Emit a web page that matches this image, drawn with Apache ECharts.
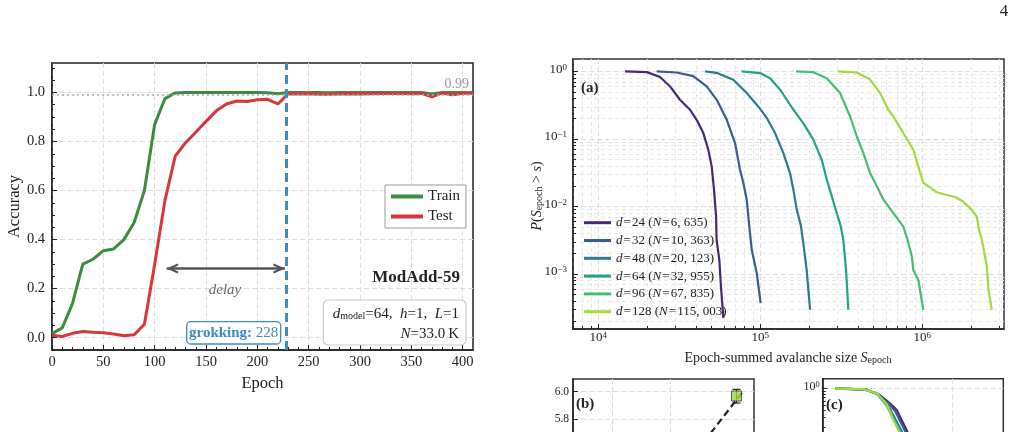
<!DOCTYPE html>
<html>
<head>
<meta charset="utf-8">
<title>grokking avalanches</title>
<script src="https://cdn.jsdelivr.net/npm/echarts@6.0.0/dist/echarts.min.js"></script>
<style>
  html, body { margin: 0; padding: 0; background: #fff; }
  #main { width: 1017px; height: 432px; }
</style>
</head>
<body>
<div id="main"></div>
<script>
var serif = 'Liberation Serif';
var ink = '#222';

// ---- left panel: ModAdd-59 accuracy vs epoch
var epochs = [0, 10, 20, 30, 40, 50, 60, 70, 80, 90, 100, 110, 120, 130, 140, 150, 160, 170, 180, 190, 200,
  210, 220, 230, 240, 250, 260, 270, 280, 290, 300, 310, 320, 330, 340, 350, 360, 370, 380, 390, 400, 410];
var trainAcc = [0.017, 0.04, 0.14, 0.30, 0.32, 0.355, 0.362, 0.40, 0.47, 0.60, 0.87, 0.975, 0.998, 1.0, 1.0, 1.0, 1.0, 1.0, 1.0, 1.0, 1.0,
  0.999, 0.995, 1.0, 1.0, 1.0, 1.0, 0.999, 1.0, 1.0, 1.0, 1.0, 1.0, 1.0, 1.0, 1.0, 1.0, 0.994, 1.0, 1.0, 1.0, 1.0];
var testAcc = [0.01, 0.005, 0.018, 0.025, 0.022, 0.02, 0.015, 0.008, 0.012, 0.055, 0.30, 0.56, 0.74, 0.795, 0.838, 0.882, 0.925, 0.953, 0.965, 0.963, 0.97,
  0.972, 0.953, 0.994, 0.994, 0.995, 0.993, 0.993, 0.994, 0.995, 0.994, 0.995, 0.996, 0.996, 0.997, 0.995, 0.996, 0.982, 0.998, 0.99, 0.997, 0.997];
var epochTicks = [0, 50, 100, 150, 200, 250, 300, 350, 400];
var accTicks = [0, 0.2, 0.4, 0.6, 0.8, 1.0];
var grokEpoch = 228;
var plateau = 0.99;
var delayFrom = 111.6, delayTo = 226.8, delayAcc = 0.282;

// ---- (a) CCDF of epoch-summed avalanche size (log10 S, log10 P)
var dims = [24, 32, 48, 64, 96, 128];
var sizeN = ['6, 635', '10, 363', '20, 123', '32, 955', '67, 835', '115, 003'];
var d24LogS = [4.165, 4.30, 4.381, 4.443, 4.504, 4.566, 4.607, 4.648, 4.679, 4.70, 4.714, 4.727, 4.73, 4.747, 4.757, 4.772];
var d24LogP = [0, -0.01, -0.083, -0.222, -0.419, -0.567, -0.716, -0.913, -1.16, -1.41, -1.75, -2.15, -2.49, -2.79, -3.19, -3.65];
var d32LogS = [4.36, 4.484, 4.586, 4.669, 4.731, 4.793, 4.844, 4.875, 4.895, 4.916, 4.932, 4.947, 4.978, 5.002];
var d32LogP = [0, -0.015, -0.07, -0.22, -0.42, -0.716, -1.06, -1.46, -1.65, -1.90, -2.30, -2.64, -2.99, -3.43];
var d48LogS = [4.659, 4.73, 4.833, 4.916, 4.998, 5.04, 5.091, 5.142, 5.183, 5.204, 5.225, 5.25, 5.265, 5.286, 5.307];
var d48LogP = [0, -0.02, -0.123, -0.32, -0.55, -0.69, -0.913, -1.21, -1.505, -1.75, -2.05, -2.28, -2.54, -2.94, -3.53];
var d64LogS = [4.885, 4.998, 5.06, 5.122, 5.204, 5.265, 5.327, 5.379, 5.41, 5.441, 5.472, 5.495, 5.512, 5.529, 5.543];
var d64LogP = [0, -0.024, -0.1, -0.27, -0.567, -0.765, -1.01, -1.31, -1.60, -1.85, -2.10, -2.28, -2.49, -2.94, -3.53];
var d96LogS = [5.22, 5.327, 5.41, 5.492, 5.554, 5.595, 5.636, 5.677, 5.719, 5.76, 5.821, 5.883, 5.914, 5.935, 5.944, 5.975, 6.006];
var d96LogP = [0, -0.01, -0.10, -0.32, -0.667, -0.96, -1.21, -1.505, -1.70, -1.90, -2.10, -2.30, -2.54, -2.74, -2.94, -3.09, -3.53];
var d128LogS = [5.478, 5.595, 5.677, 5.739, 5.79, 5.821, 5.883, 5.944, 5.975, 6.006, 6.037, 6.089, 6.15, 6.202, 6.253, 6.305, 6.336, 6.35, 6.367, 6.398, 6.408, 6.428];
var d128LogP = [0, -0.015, -0.12, -0.32, -0.567, -0.667, -0.913, -1.16, -1.41, -1.65, -1.70, -1.79, -1.83, -1.86, -1.93, -2.05, -2.15, -2.35, -2.49, -2.89, -3.23, -3.53];
var aLogS = [d24LogS, d32LogS, d48LogS, d64LogS, d96LogS, d128LogS];
var aLogP = [d24LogP, d32LogP, d48LogP, d64LogP, d96LogP, d128LogP];
var dimColors = ['#46277a', '#3b5b91', '#2c7a8d', '#22a286', '#43be71', '#a2d93c'];

// ---- (b) only the top of it is on the page
var bX = [3.144];
var bY = [5.969];
var bErrLo = [0.051];
var bErrHi = [0.048];
var fitX = [2.70, 3.24];
var fitY = [5.70, 5.993];
var bTicks = [5.0, 5.2, 5.4, 5.6, 5.8, 6.0];

// ---- (c) collapsed curves, log10 of both axes
var c24LogX = [-1.30, -0.96, -0.81, -0.70, -0.62, -0.51, -0.45];
var c24LogP = [0, -0.015, -0.115, -0.26, -0.39, -0.76, -1.02];
var c32LogX = [-1.30, -0.97, -0.82, -0.71, -0.635, -0.53, -0.47];
var c32LogP = [0, -0.012, -0.11, -0.27, -0.42, -0.77, -1.03];
var c48LogX = [-1.30, -0.98, -0.835, -0.725, -0.65, -0.565, -0.50];
var c48LogP = [0, -0.01, -0.095, -0.29, -0.51, -0.78, -1.05];
var c64LogX = [-1.30, -0.985, -0.84, -0.73, -0.655, -0.58, -0.51];
var c64LogP = [0, -0.01, -0.09, -0.30, -0.54, -0.79, -1.06];
var c96LogX = [-1.30, -0.99, -0.845, -0.735, -0.66, -0.585, -0.515];
var c96LogP = [0, -0.01, -0.09, -0.30, -0.55, -0.79, -1.06];
var c128LogX = [-1.30, -0.99, -0.84, -0.73, -0.665, -0.59, -0.52];
var c128LogP = [0, -0.008, -0.085, -0.285, -0.55, -0.79, -1.05];
var cLogX = [c24LogX, c32LogX, c48LogX, c64LogX, c96LogX, c128LogX];
var cLogP = [c24LogP, c32LogP, c48LogP, c64LogP, c96LogP, c128LogP];

var chart = echarts.init(document.getElementById('main'), null, {width: 1017, height: 432});

function logMinors(lo, hi) {
  var out = [];
  for (var e = Math.floor(Math.log10(lo)); e <= Math.ceil(Math.log10(hi)); e++) {
    for (var m = 2; m <= 9; m++) {
      var v = m * Math.pow(10, e);
      if (v > lo && v < hi) out.push(v);
    }
  }
  return out;
}
function pow10Label(v) {
  var e = Math.round(Math.log10(v));
  return '{b|10}{sup|' + (e < 0 ? '\u2212' + (-e) : e) + '}';
}
var powRich = {
  b: {fontFamily: serif, fontSize: 13, lineHeight: 13, padding: [4, 0, 0, 0], verticalAlign: 'bottom', color: ink},
  sup: {fontFamily: serif, fontSize: 9, lineHeight: 9, verticalAlign: 'top', color: ink}
};
var subRich = {
  r: {fontFamily: serif, fontSize: 14, lineHeight: 14, padding: [0, 0, 3, 0], verticalAlign: 'top'},
  i: {fontFamily: serif, fontSize: 14, fontStyle: 'italic', lineHeight: 14, padding: [0, 0, 3, 0], verticalAlign: 'top'},
  sub: {fontFamily: serif, fontSize: 10, lineHeight: 10, verticalAlign: 'bottom'}
};
var boxRich = {
  r: {fontFamily: serif, fontSize: 15, lineHeight: 15, padding: [0, 0, 4, 0], verticalAlign: 'top'},
  i: {fontFamily: serif, fontSize: 15, fontStyle: 'italic', lineHeight: 15, padding: [0, 0, 4, 0], verticalAlign: 'top'},
  sub: {fontFamily: serif, fontSize: 10, lineHeight: 10, verticalAlign: 'bottom'}
};

function tick(len, vals) {
  return {show: true, inside: true, length: len, customValues: vals, lineStyle: {color: ink, width: 1}};
}
var noLine = {show: false, onZero: false};
var mainLine = {show: true, onZero: false, lineStyle: {color: ink, width: 1.5}};
var gridDash = {show: true, lineStyle: {color: '#dedede', type: [5, 3], width: 1}};
var gridDashMinor = {show: true, lineStyle: {color: '#e8e8e8', type: [4, 3], width: 1}};

var epochMinor = [];
for (var t = 10; t < 410; t += 10) if (t % 50) epochMinor.push(t);
var accMinor = [];
for (var k = -1; k <= 22; k++) if (k % 4) accMinor.push(k * 0.05);

var chevron = 'path://M5,0 M5,12 L10,23 L8.3,24 L5,17.5 L1.7,24 L0,23 Z';

var series = [
  {
    name: 'Train', type: 'line', xAxisIndex: 0, yAxisIndex: 0, showSymbol: false, color: '#3b8c3f',
    lineStyle: {width: 3, color: '#3b8c3f'},
    data: epochs.map(function (e, i) { return [e, trainAcc[i]]; }),
    markLine: {
      silent: true, symbol: 'none', animation: false,
      data: [
        {yAxis: plateau, lineStyle: {type: [2, 3], color: '#aaaaaa', width: 1.5},
         label: {show: true, position: 'insideEndTop', formatter: '0.99', color: '#999', fontFamily: serif, fontSize: 14, distance: 4}},
        {xAxis: grokEpoch, lineStyle: {type: [9, 5], color: '#3d8bc6', width: 3}, label: {show: false}}
      ]
    }
  },
  {
    name: 'Test', type: 'line', xAxisIndex: 0, yAxisIndex: 0, showSymbol: false, color: '#d5383a',
    lineStyle: {width: 3, color: '#d5383a'},
    data: epochs.map(function (e, i) { return [e, testAcc[i]]; }),
    markLine: {
      silent: true, animation: false, symbol: [chevron, chevron], symbolSize: [10, 24],
      lineStyle: {type: 'solid', color: '#555', width: 2.5},
      label: {show: false},
      data: [[{coord: [delayFrom, delayAcc]}, {coord: [delayTo, delayAcc]}]]
    }
  }
];

dims.forEach(function (d, k) {
  series.push({
    name: 'd' + d, type: 'line', xAxisIndex: 2, yAxisIndex: 2, showSymbol: false, color: dimColors[k],
    lineStyle: {width: 2.2, color: dimColors[k]},
    data: aLogS[k].map(function (s, i) { return [Math.pow(10, s), Math.pow(10, aLogP[k][i])]; })
  });
});

series.push({
  name: 'fit', type: 'line', xAxisIndex: 4, yAxisIndex: 4, showSymbol: false,
  lineStyle: {width: 2.2, color: '#222', type: [7, 4]},
  data: fitX.map(function (x, i) { return [x, fitY[i]]; })
});
series.push({
  name: 'err', type: 'custom', xAxisIndex: 4, yAxisIndex: 4, z: 3,
  encode: {x: 0, y: [1, 2]},
  data: bX.map(function (x, i) { return [x, bY[i] - bErrLo[i], bY[i] + bErrHi[i]]; }),
  renderItem: function (params, api) {
    var lo = api.coord([api.value(0), api.value(1)]);
    var hi = api.coord([api.value(0), api.value(2)]);
    var st = {stroke: '#222', lineWidth: 1.2};
    return {type: 'group', children: [
      {type: 'line', shape: {x1: lo[0], y1: lo[1], x2: hi[0], y2: hi[1]}, style: st},
      {type: 'line', shape: {x1: lo[0] - 4, y1: lo[1], x2: lo[0] + 4, y2: lo[1]}, style: st},
      {type: 'line', shape: {x1: hi[0] - 4, y1: hi[1], x2: hi[0] + 4, y2: hi[1]}, style: st}
    ]};
  }
});
series.push({
  name: 'd128pt', type: 'scatter', xAxisIndex: 4, yAxisIndex: 4, z: 4,
  symbol: 'rect', symbolSize: 10,
  itemStyle: {color: '#9fd83c', borderColor: '#333', borderWidth: 1},
  data: bX.map(function (x, i) { return [x, bY[i]]; })
});

dims.forEach(function (d, k) {
  series.push({
    name: 'c' + d, type: 'line', xAxisIndex: 5, yAxisIndex: 5, showSymbol: false,
    lineStyle: {width: 2.2, color: dimColors[k]},
    data: cLogX[k].map(function (s, i) { return [Math.pow(10, s), Math.pow(10, cLogP[k][i])]; })
  });
});

var legendRich = {
  i: {fontFamily: serif, fontSize: 13, fontStyle: 'italic', color: ink},
  r: {fontFamily: serif, fontSize: 13, color: ink}
};

function gtext(x, y, text, extra, rich) {
  var style = {text: text, x: 0, y: 0, fill: ink, fontFamily: serif, fontSize: 15,
    align: 'center', verticalAlign: 'middle', legacy: false};
  for (var key in extra) style[key] = extra[key];
  if (rich) style.rich = rich;
  return {type: 'text', x: x, y: y, z: 100, style: style};
}

var aYTitle = gtext(537, 196, '{i|P}{r|(}{i|S}{sub|epoch}{r| > }{i|s}{r|)}', {}, subRich);
aYTitle.rotation = Math.PI / 2;

var option = {
  animation: false,
  backgroundColor: '#fff',
  grid: [
    {left: 52, top: 63, width: 421, height: 287, show: true, borderColor: ink, borderWidth: 1.5, outerBoundsMode: 'none'},
    {left: 573, top: 59, width: 431, height: 270, show: true, borderColor: '#333', borderWidth: 1.5, outerBoundsMode: 'none'},
    {left: 573, top: 379, width: 181, height: 206, show: true, borderColor: '#333', borderWidth: 1.5, outerBoundsMode: 'none'},
    {left: 822.7, top: 378.7, width: 180.6, height: 230, show: true, borderColor: '#333', borderWidth: 1.5, outerBoundsMode: 'none'}
  ],
  xAxis: [
    {gridIndex: 0, type: 'value', min: 0, max: 410, position: 'bottom', axisLine: mainLine,
     axisTick: tick(5, epochTicks),
     axisLabel: {customValues: epochTicks, margin: 5, fontFamily: serif, fontSize: 14.5, color: ink},
     splitLine: gridDash,
     name: 'Epoch', nameLocation: 'middle', nameGap: 25,
     nameTextStyle: {fontFamily: serif, fontSize: 16.5, color: ink}},
    {gridIndex: 0, type: 'value', min: 0, max: 410, position: 'bottom', axisLine: noLine,
     axisTick: tick(3, epochMinor), axisLabel: {show: false}, splitLine: {show: false}},
    {gridIndex: 1, type: 'log', logBase: 10, min: 6980, max: 3.19e6, position: 'bottom', axisLine: mainLine,
     axisTick: tick(5, [1e4, 1e5, 1e6]),
     axisLabel: {customValues: [1e4, 1e5, 1e6], formatter: pow10Label, rich: powRich, margin: 2},
     splitLine: gridDash},
    {gridIndex: 1, type: 'log', logBase: 10, min: 6980, max: 3.19e6, position: 'bottom', axisLine: noLine,
     axisTick: tick(3, logMinors(6980, 3.19e6)), axisLabel: {show: false}, splitLine: gridDashMinor},
    {gridIndex: 2, type: 'value', min: 0.33, max: 3.446, position: 'bottom', axisLine: mainLine,
     axisTick: tick(5, [1, 2]), axisLabel: {show: false}, splitLine: gridDash},
    {gridIndex: 3, type: 'log', logBase: 10, min: 0.036, max: 3.65, position: 'bottom', axisLine: mainLine,
     axisTick: tick(5, [1]), axisLabel: {show: false}, splitLine: gridDash}
  ],
  yAxis: [
    {gridIndex: 0, type: 'value', min: -0.05, max: 1.12, position: 'left', axisLine: mainLine,
     axisTick: tick(5, accTicks),
     axisLabel: {customValues: accTicks, margin: 7, fontFamily: serif, fontSize: 14.5, color: ink,
       formatter: function (v) { return v.toFixed(1); }},
     splitLine: gridDash,
     name: 'Accuracy', nameLocation: 'middle', nameGap: 29,
     nameTextStyle: {fontFamily: serif, fontSize: 16.5, color: ink}},
    {gridIndex: 0, type: 'value', min: -0.05, max: 1.12, position: 'left', axisLine: noLine,
     axisTick: tick(3, accMinor), axisLabel: {show: false}, splitLine: {show: false}},
    {gridIndex: 1, type: 'log', logBase: 10, min: 1.53e-4, max: 1.53, position: 'left', axisLine: mainLine,
     axisTick: tick(5, [1e-3, 1e-2, 1e-1, 1]),
     axisLabel: {customValues: [1e-3, 1e-2, 1e-1, 1], formatter: pow10Label, rich: powRich, margin: 6, padding: [0, 0, 4, 0]},
     splitLine: gridDash},
    {gridIndex: 1, type: 'log', logBase: 10, min: 1.53e-4, max: 1.53, position: 'left', axisLine: noLine,
     axisTick: tick(3, logMinors(1.53e-4, 1.53)), axisLabel: {show: false}, splitLine: gridDashMinor},
    {gridIndex: 2, type: 'value', min: 4.6, max: 6.092, position: 'left', axisLine: mainLine,
     axisTick: tick(5, bTicks),
     axisLabel: {customValues: bTicks, margin: 4, fontFamily: serif, fontSize: 11.5, color: ink,
       formatter: function (v) { return v.toFixed(1); }},
     splitLine: gridDash},
    {gridIndex: 3, type: 'log', logBase: 10, min: 1e-4, max: 1.52, position: 'left', axisLine: mainLine,
     axisTick: tick(5, [1e-3, 1e-2, 1e-1, 1]),
     axisLabel: {customValues: [1e-3, 1e-2, 1e-1, 1], formatter: pow10Label, margin: 3, padding: [0, 0, 4, 0],
       rich: {b: {fontFamily: serif, fontSize: 12, lineHeight: 12, padding: [4, 0, 0, 0], verticalAlign: 'bottom', color: ink},
              sup: {fontFamily: serif, fontSize: 8.5, lineHeight: 8.5, verticalAlign: 'top', color: ink}}},
     splitLine: gridDash},
    {gridIndex: 3, type: 'log', logBase: 10, min: 1e-4, max: 1.52, position: 'left', axisLine: noLine,
     axisTick: tick(3, logMinors(1e-4, 1.52)), axisLabel: {show: false}, splitLine: {show: false}}
  ],
  legend: [
    {data: ['Train', 'Test'], left: 385, top: 185, orient: 'vertical', icon: 'rect',
     itemWidth: 32, itemHeight: 4, itemGap: 5, padding: [4, 6, 4, 6], selectedMode: false,
     backgroundColor: '#fff', borderColor: '#999', borderWidth: 1, borderRadius: 0,
     textStyle: {fontFamily: serif, fontSize: 15, lineHeight: 15, color: ink}},
    {data: dims.map(function (d) { return 'd' + d; }), left: 584, top: 215.7, orient: 'vertical', icon: 'rect',
     itemWidth: 27, itemHeight: 3, itemGap: 3.8, padding: 0, selectedMode: false,
     formatter: function (name) {
       var k = dims.indexOf(+name.slice(1));
       return '{i|d}{r|\u200a=\u200a' + dims[k] + ' (}{i|N}{r|\u200a=\u200a' + sizeN[k] + ')}';
     },
     textStyle: {fontFamily: serif, fontSize: 13, lineHeight: 14, color: ink, rich: legendRich}}
  ],
  graphic: [
    gtext(1004, 12, '4', {fontSize: 17}),
    gtext(225, 290, 'delay', {fontStyle: 'italic', fill: '#666'}),
    {type: 'rect', z: 99, shape: {x: 186.7, y: 321.7, width: 94, height: 22.3, r: 4},
     style: {fill: '#fff', stroke: '#3d8bc6', lineWidth: 1.3}},
    gtext(233.7, 333, '{b|grokking:}{n| 228}', {fill: '#3d8bc6'},
      {b: {fontFamily: serif, fontSize: 15, fontWeight: 'bold'}, n: {fontFamily: serif, fontSize: 15}}),
    gtext(460, 278, 'ModAdd-59', {align: 'right', fontSize: 17, fontWeight: 'bold'}),
    {type: 'rect', z: 99, shape: {x: 323.3, y: 300, width: 142.7, height: 45, r: 5},
     style: {fill: 'rgba(255,255,255,0.9)', stroke: '#c8c8c8', lineWidth: 1.2}},
    gtext(459, 313.7, '{i|d}{sub|model}{r|=64,\u2002}{i|h}{r|=1,\u2002}{i|L}{r|=1}', {align: 'right'}, boxRich),
    gtext(459, 333.7, '{i|N}{r|=33.0\u2009K}', {align: 'right'}, boxRich),
    gtext(581, 88, '(a)', {align: 'left', fontWeight: 'bold'}),
    gtext(576, 404, '(b)', {align: 'left', fontWeight: 'bold'}),
    gtext(826, 405, '(c)', {align: 'left', fontWeight: 'bold'}),
    gtext(788, 358, '{r|Epoch-summed avalanche size }{i|S}{sub|epoch}', {}, subRich),
    aYTitle
  ],
  series: series
};

chart.setOption(option);
</script>
</body>
</html>
